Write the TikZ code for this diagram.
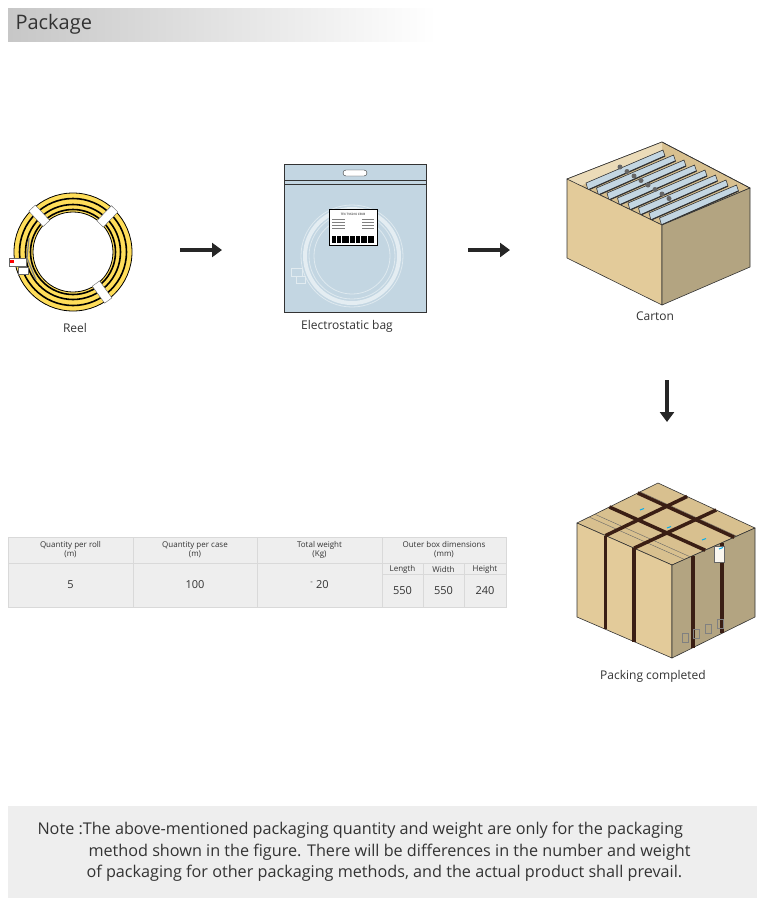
\documentclass[tikz,border=0pt]{standalone}
\usepackage{fontspec}
\setmainfont{Open Sans}
\usetikzlibrary{arrows.meta,shapes.geometric,calc}
\definecolor{box}{HTML}{E3CB9A}
\definecolor{boxd}{HTML}{B3A481}
\definecolor{boxi}{HTML}{D8C08F}
\definecolor{bag}{HTML}{C3D6E2}
\definecolor{ylw}{HTML}{FFDE5A}
\definecolor{strap}{HTML}{3A1E14}
\definecolor{cell}{HTML}{EEEEEE}
\tikzset{
 lbl/.style={font=\fontsize{12}{14}\selectfont,text=black!80},
 cel/.style={font=\fontsize{8}{9}\selectfont,align=center,text=black!80},
 num/.style={font=\fontsize{11}{13}\selectfont,text=black!80},
 note/.style={anchor=west,font=\fontsize{16.2}{19}\selectfont,text=black!80},
 flow/.style={line width=4pt,-{Triangle[length=10pt,width=14pt]},black!85},
 edge/.style={draw=black!80,line width=0.6pt,line join=round},
}
\begin{document}
\begin{tikzpicture}[x=1pt,y=-1pt]
\useasboundingbox (0,0) rectangle (777,906);
\fill[white] (0,0) rectangle (777,906);
% header
\shade[left color=black!22,right color=white] (8,8) rectangle (436,41);
\node[anchor=west,font=\fontsize{20}{24}\selectfont,text=black!80] (title) at (12,24) {Package};
% reel
\coordinate (rc) at (73,252);
\fill[ylw,even odd rule] (rc) circle (59) (rc) circle (40);
\draw[black,line width=0.8pt] (rc) circle (59) (rc) circle (40);
\draw[black,line width=1.6pt] (rc) circle (53.5) (rc) circle (47.5) (rc) circle (42.5);
\foreach \a in {133,46,-54}{\fill[white,draw=black!60,rotate around={\a:(rc)}] ($(rc)+(39,-4.5)$) rectangle ($(rc)+(60,4.5)$);}
\draw[black!50,line width=1.2pt] (29,238) -- (27,258) -- (36,280);
\fill[white,draw=black!60] (9,258) rectangle (26,266);
\fill[red] (10,260) rectangle (14,263);
\fill[white,draw=black!60] (18,267) rectangle (28,274);
\node[lbl] (reel) at (75,328) {Reel};
% bag
\fill[bag,draw=black!80,line width=0.8pt] (284,164) rectangle (426,312);
\draw[black!80,line width=0.8pt] (284,180) -- (426,180) (284,184) -- (426,184);
\draw[black!80,fill=white,rounded corners=3pt] (343,170) rectangle (367,176);
\draw[white!55!bag,line width=4pt] (352,256) circle (47);
\draw[white!45!bag,line width=0.8pt] (352,256) circle (51) (352,256) circle (43) (352,256) circle (38);
\fill[white,draw=black] (329,209) rectangle (377,245);
\node[font=\fontsize{3}{3}\selectfont] (lab) at (353,214) {ТЕХ ТУ6010 СЗКВ};
\foreach \y in {219,222,225,228}{\draw[black!50,line width=0.4pt] (332,\y) -- (345,\y) (362,\y) -- (374,\y);}
\fill[black] (332,236) rectangle (374,243);
\foreach \x in {336,341,349,355,360,367}{\fill[white] (\x,236) rectangle (\x+1,243);}
\draw[white!50!bag] (291,268) rectangle (302,276) (296,276) rectangle (305,283);
\node[lbl] (bagl) at (347,326) {Electrostatic bag};
% carton
\coordinate (c1) at (567,179); \coordinate (c2) at (662,225); \coordinate (c3) at (750,188);
\coordinate (c4) at (662,142); \coordinate (c5) at (567,258); \coordinate (c6) at (662,305);
\coordinate (c7) at (750,267);
\fill[boxi,edge] (c1) -- (c4) -- (c3) -- (c2) -- cycle;
\fill[box!70!white] (c1) -- (c4) -- (662,150) -- (578,187) -- cycle;
\foreach \i in {0,...,7}{
  \fill[bag,draw=black!80,line width=0.6pt] ($(586,183)+(\i*10.5,5*\i)$) -- ($(663,150)+(\i*10.5,5*\i)$) -- ($(665,156)+(\i*10.5,5*\i)$) -- ($(588,190)+(\i*10.5,5*\i)$) -- cycle;
  \draw[black!80,line width=1.2pt] ($(588,190)+(\i*10.5,5*\i)$) -- ($(665,156)+(\i*10.5,5*\i)$);
  \fill[black!60] ($(620,167)+(\i*7,4.5*\i)$) circle (2.5);
}
\fill[box,edge] (c1) -- (c2) -- (c6) -- (c5) -- cycle;
\fill[boxd,edge] (c2) -- (c3) -- (c7) -- (c6) -- cycle;
\draw[edge] (c1) -- (c4) -- (c3);
\node[lbl] (cart) at (655,316) {Carton};
% packed
\coordinate (p1) at (577,523); \coordinate (p2) at (672,565); \coordinate (p3) at (755,528);
\coordinate (p4) at (658,483); \coordinate (p5) at (577,617); \coordinate (p6) at (672,658);
\coordinate (p7) at (755,617);
\fill[boxi,edge] (p1) -- (p4) -- (p3) -- (p2) -- cycle;
\fill[box,edge] (p1) -- (p2) -- (p6) -- (p5) -- cycle;
\fill[boxd,edge] (p2) -- (p3) -- (p7) -- (p6) -- cycle;
\draw[black!60,line width=0.4pt] ($(p1)!0.15!(p4)$) -- ($(p2)!0.15!(p3)$) ($(p1)!0.22!(p4)$) -- ($(p2)!0.22!(p3)$)
  ($(p1)!0.78!(p4)$) -- ($(p2)!0.78!(p3)$);
\foreach \t in {0.3,0.6}{
 \draw[strap,line width=3.5pt] ($(p1)!\t!(p2)$) -- ($(p4)!\t!(p3)$);
 \draw[strap,line width=3.5pt] ($(p1)!\t!(p2)$) -- ($(p5)!\t!(p6)$);}
\foreach \t in {0.4,0.75}{
 \draw[strap,line width=3.5pt] ($(p1)!\t!(p4)$) -- ($(p2)!\t!(p3)$);
 \draw[strap,line width=3.5pt] ($(p2)!{1-\t}!(p3)$) -- ($(p6)!{1-\t}!(p7)$);}
\fill[white!85!box,draw=black!60] (714,546) rectangle (724,562);
\foreach \p in {(640,510),(667,528),(702,540),(719,549)}{\draw[cyan,line width=1pt] \p -- ++(4,-1.5);}
\foreach \x/\y in {682/633,693/629,705/624,717/619}{\draw[black!50,line width=0.4pt] (\x,\y) rectangle (\x+6,\y+9);}
\node[lbl] (pack) at (653,676) {Packing completed};
% arrows
\coordinate (a1) at (180,250); \coordinate (a2) at (222,250);
\coordinate (a3) at (468,250); \coordinate (a4) at (510,250);
\coordinate (a5) at (667,380); \coordinate (a6) at (667,422);
\draw[flow] (a1) -- (a2); \draw[flow] (a3) -- (a4); \draw[flow] (a5) -- (a6);
% table
\fill[cell] (8,537) rectangle (506,607);
\draw[white!85!black,line width=1pt] (8,537) rectangle (506,607) (8,563) -- (506,563)
 (133,537) -- (133,607) (257,537) -- (257,607) (382,537) -- (382,607)
 (382,574) -- (506,574) (423,563) -- (423,607) (464,563) -- (464,607);
\node[cel] (h1) at (70.5,550) {Quantity per roll\\(m)};
\node[cel] (h2) at (195,550) {Quantity per case\\(m)};
\node[cel] (h3) at (319.5,550) {Total weight\\(Kg)};
\node[cel] (h4) at (444,550) {Outer box dimensions\\(mm)};
\node[cel] (s1) at (402.5,569) {Length};
\node[cel] (s2) at (443.5,569) {Width};
\node[cel] (s3) at (485,569) {Height};
\node[num] (v1) at (70.5,585) {5};
\node[num] (v2) at (195,585) {100};
\node[num] (v3) at (319.5,585) {\textsuperscript{-}\ 20};
\node[num] (v4) at (402.5,591) {550};
\node[num] (v5) at (443.5,591) {550};
\node[num] (v6) at (485,591) {240};
% note
\fill[cell] (8,806) rectangle (757,898);
\node[note] (n1) at (34,830) {Note :The above-mentioned packaging quantity and weight are only for the packaging};
\node[note] (n2) at (85,852) {method shown in the figure. There will be differences in the number and weight};
\node[note] (n3) at (83,873) {of packaging for other packaging methods, and the actual product shall prevail.};
\end{tikzpicture}
\end{document}
